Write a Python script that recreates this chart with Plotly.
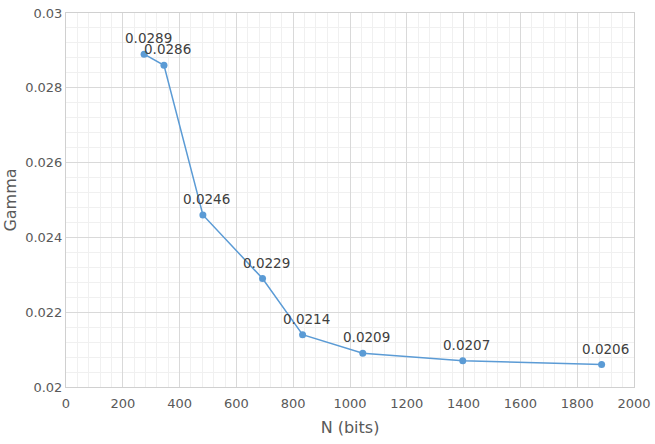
import plotly.graph_objects as go

n_bits = [275, 345, 482, 692, 833, 1045, 1397, 1886]
gamma = [0.0289, 0.0286, 0.0246, 0.0229, 0.0214, 0.0209, 0.0207, 0.0206]
labels = ["0.0289", "0.0286", "0.0246", "0.0229", "0.0214", "0.0209", "0.0207", "0.0206"]
x_ticks = list(range(0, 2001, 200))
y_ticks = [0.02, 0.022, 0.024, 0.026, 0.028, 0.03]
y_tick_text = ["0.02", "0.022", "0.024", "0.026", "0.028", "0.03"]

fig = go.Figure()
fig.add_trace(go.Scatter(
    x=n_bits, y=gamma, mode="lines+markers",
    line=dict(color="#5b9bd5", width=1.5),
    marker=dict(color="#5b9bd5", size=7),
    showlegend=False,
))
for xv, yv, lab in zip(n_bits, gamma, labels):
    fig.add_annotation(
        x=xv, y=yv, text=lab, showarrow=False,
        xshift=4, yshift=16,
        font=dict(family="DejaVu Sans", size=13.5, color="#404040"),
    )

fig.update_layout(
    width=655, height=444,
    margin=dict(l=66, r=21, t=13, b=57),
    paper_bgcolor="white", plot_bgcolor="white",
    font=dict(family="DejaVu Sans", color="#595959", size=13),
)
fig.update_xaxes(
    range=[0, 2000], tickvals=x_ticks, automargin=False,
    showgrid=True, gridcolor="#d9d9d9", gridwidth=1,
    minor=dict(dtick=40, showgrid=True, gridcolor="#f0f0f0", gridwidth=1),
    showline=True, linecolor="#d0d0d0", mirror=True,
    zeroline=False, ticks="outside", ticklen=4, tickcolor="rgba(0,0,0,0)",
    title=dict(text="N (bits)", font=dict(family="DejaVu Sans", size=16, color="#595959"), standoff=12),
    tickfont=dict(family="DejaVu Sans", size=13, color="#595959"),
)
fig.update_yaxes(
    range=[0.02, 0.03], tickvals=y_ticks, ticktext=y_tick_text, automargin=False,
    showgrid=True, gridcolor="#d9d9d9", gridwidth=1,
    minor=dict(dtick=0.0004, showgrid=True, gridcolor="#f0f0f0", gridwidth=1),
    showline=True, linecolor="#d0d0d0", mirror=True,
    zeroline=False, ticks="", ticklen=0,
    title=dict(text="Gamma", font=dict(family="DejaVu Sans", size=16, color="#595959"), standoff=4),
    tickfont=dict(family="DejaVu Sans", size=13, color="#595959"),
)

fig.write_html("out.html")
